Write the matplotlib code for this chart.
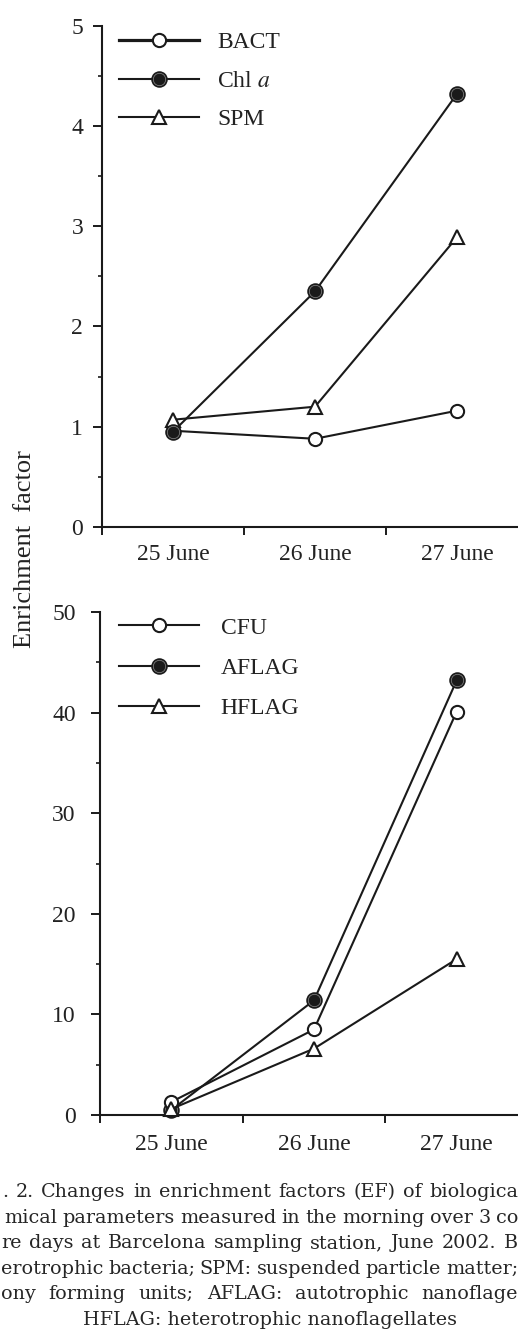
import numpy as np
import matplotlib
matplotlib.use("Agg")
import matplotlib.pyplot as plt
from matplotlib.lines import Line2D
from matplotlib.legend_handler import HandlerTuple

plt.rcParams['font.family'] = ['Liberation Serif', 'DejaVu Serif']
plt.rcParams['mathtext.fontset'] = 'stix'

# data
days = ["25 June", "26 June", "27 June"]
xpos = [0.5, 1.5, 2.5]

bact = [0.96, 0.88, 1.16]
chl = [0.95, 2.35, 4.32]
spm = [1.07, 1.20, 2.89]

cfu = [1.3, 8.5, 40.1]
aflag = [0.5, 11.4, 43.2]
hflag = [0.6, 6.6, 15.5]

caption = [
    ". 2. Changes in enrichment factors (EF) of biologica",
    "mical parameters measured in the morning over 3 co",
    "re days at Barcelona sampling station, June 2002. B",
    "erotrophic bacteria; SPM: suspended particle matter;",
    "ony forming units; AFLAG: autotrophic nanoflage",
]
last_line = "HFLAG: heterotrophic nanoflagellates"

W, H = 518, 1330
fig = plt.figure(figsize=(W / 100, H / 100), dpi=100)

ax1 = fig.add_axes([102 / W, (H - 527) / H, 426 / W, 501.3 / H])
ax2 = fig.add_axes([100 / W, (H - 1115) / H, 428 / W, 503 / H])

fs = 17
lw = 1.5
ms = 9.5
ink = "#1a1a1a"


def style_axis(ax, ymax, ystep, pad, xpad):
    ax.set_xlim(0, 3)
    ax.set_ylim(0, ymax)
    for s in ["top", "right"]:
        ax.spines[s].set_visible(False)
    for s in ["left", "bottom"]:
        ax.spines[s].set_linewidth(1.5)
        ax.spines[s].set_color(ink)
    ax.set_yticks(np.arange(0, ymax + 0.01, ystep))
    ax.set_yticks(np.arange(ystep / 2, ymax, ystep), minor=True)
    ax.set_xticks([0, 1, 2, 3])
    ax.set_xticklabels([])
    ax.set_xticks(xpos, minor=True)
    ax.set_xticklabels(days, minor=True, fontsize=fs)
    ax.tick_params(axis="y", which="major", length=6.5, width=1.4,
                   labelsize=fs, pad=pad, color=ink, labelcolor="#222222")
    ax.tick_params(axis="y", which="minor", length=2.6, width=1.2, color=ink)
    ax.tick_params(axis="x", which="major", length=6, width=1.4, color=ink)
    ax.tick_params(axis="x", which="minor", length=0, pad=xpad, labelcolor="#222222")


def open_line(ax, x, y, mk, z):
    h, = ax.plot(x, y, "-" + mk, color=ink, lw=lw, ms=ms, mfc="white",
                 mec=ink, mew=1.5, zorder=z, clip_on=False)
    return h


def filled_line(ax, x, y, z):
    main, = ax.plot(x, y, "-o", color=ink, lw=lw, ms=ms + 1.2, mfc=ink,
                    mec=ink, mew=1.2, zorder=z, clip_on=False)
    ring, = ax.plot(x, y, "o", ms=ms - 0.6, mfc="none", mec="#8a8a8a",
                    mew=0.5, zorder=z + 0.1, clip_on=False)
    return (main, ring)


leg_kw = dict(handler_map={tuple: HandlerTuple(ndivide=1)}, loc="upper left",
              frameon=False, fontsize=fs, handlelength=3.4, borderpad=0,
              borderaxespad=0, labelcolor="#222222")

# top panel
style_axis(ax1, 5, 1, 7, 12.5)
h_bact = open_line(ax1, xpos, bact, "o", 2)
h_spm = open_line(ax1, xpos, spm, "^", 3)
h_chl = filled_line(ax1, xpos, chl, 4)
bact_key = Line2D([], [], color=ink, lw=2.3, marker="o", ms=ms, mfc="white",
                  mec=ink, mew=1.5)
ax1.legend([bact_key, h_chl, h_spm], ["BACT", "Chl $\\it{a}$", "SPM"],
           bbox_to_anchor=(17 / 426, 0.988), handletextpad=0.75,
           labelspacing=0.72, **leg_kw)

# bottom panel
style_axis(ax2, 50, 10, 11, 14)
h_afl = filled_line(ax2, xpos, aflag, 2)
h_cfu = open_line(ax2, xpos, cfu, "o", 3)
h_hfl = open_line(ax2, xpos, hflag, "^", 4)
ax2.legend([h_cfu, h_afl, h_hfl], ["CFU", "AFLAG", "HFLAG"],
           bbox_to_anchor=(19 / 428, 0.99), handletextpad=0.9,
           labelspacing=0.8, **leg_kw)

fig.text(25 / W, 1 - 549 / H, "Enrichment  factor", rotation=90, fontsize=19,
         ha="center", va="center", color="#222222")

# caption, justified like the journal text
cap_kw = dict(fontsize=13.8, family="DejaVu Serif", color="#262626", va="baseline")
fig.canvas.draw()
rend = fig.canvas.get_renderer()
baselines = [1197, 1223, 1248, 1274, 1299]
starts = [2, 4, 1, 1, 1]
for line, yb, x0 in zip(caption, baselines, starts):
    words = line.split()
    txts = [fig.text(0, 1 - yb / H, w, **cap_kw) for w in words]
    widths = [t.get_window_extent(rend).width for t in txts]
    gap = (518 - x0 - sum(widths)) / (len(words) - 1)
    pos = x0
    for t, w in zip(txts, widths):
        t.set_x(pos / W)
        pos += w + gap
fig.text(270 / W, 1 - 1325 / H, last_line, ha="center", **cap_kw)

fig.savefig("out.png", dpi=100)
